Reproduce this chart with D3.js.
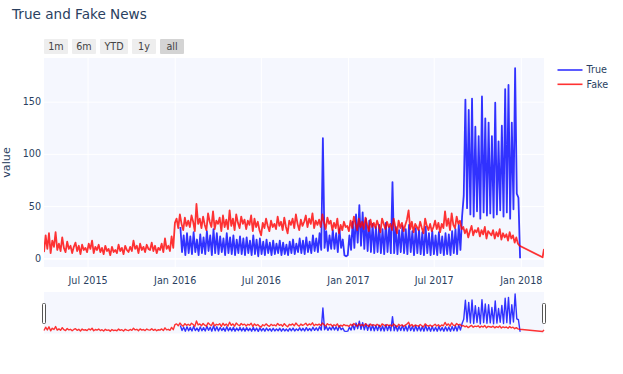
<!DOCTYPE html>
<html>
<head>
<meta charset="utf-8">
<script src="https://cdn.jsdelivr.net/npm/d3@7"></script>
<style>
  body { margin: 0; background: #fff; }
  text { font-family: "DejaVu Sans", Verdana, sans-serif; }
</style>
</head>
<body>
<div id="chart"></div>
<script>
// half-week samples (3.5 days apart)
const stepHours = 84
const fakeStart = "2015-03-31"
const trueStart = "2016-01-13"

const fakeValues = [
    // 2015 Apr..Dec
    6, 22, 9, 24, 5, 17, 11, 25, 8,
    14, 7, 20, 10, 6, 16, 9, 12, 5,
    11, 15, 7, 12, 4, 13, 8, 10,
    6, 14, 9, 17, 5, 11, 8, 13, 6,
    10, 4, 12, 7, 9, 3, 11, 6, 8,
    5, 13, 7, 10, 4, 12, 8, 6, 11,
    7, 17, 9, 12, 5, 14, 8, 11,
    6, 13, 9, 8, 15, 7, 12, 5, 10,
    8, 14, 6, 19, 9, 12, 7, 21, 10,
    // 2016
    34, 38, 29, 42, 33, 27, 39, 31, 36,
    30, 41, 35, 26, 52, 33, 38, 29,
    40, 32, 27, 43, 35, 30, 45, 28, 36,
    33, 39, 26, 41, 30, 37, 28, 46,
    31, 38, 27, 42, 34, 29, 40, 33, 37,
    28, 36, 32, 41, 26, 38, 30, 35, 27,
    22, 34, 29, 38, 31, 26, 36, 30, 33,
    28, 40, 31, 35, 27, 39, 30, 24, 36,
    32, 38, 29, 42, 33, 27, 37, 31,
    35, 41, 30, 38, 33, 43, 29, 36, 32,
    37, 30, 42, 34, 28, 39, 33, 36, 27,
    34, 29, 38, 24, 32, 27, 35, 30,
    // 2017
    31, 26, 36, 29, 40, 33, 27, 38, 30,
    35, 28, 39, 32, 26, 37, 30, 34,
    29, 36, 31, 25, 38, 33, 28, 35, 30,
    33, 27, 38, 30, 24, 36, 29, 34, 26,
    32, 37, 46, 28, 35, 25, 33, 30, 27,
    35, 29, 24, 38, 31, 27, 33, 26,
    30, 36, 28, 34, 25, 33, 29, 45, 31,
    38, 27, 43, 32, 29, 40, 33, 36, 28,
    30, 24, 28, 20, 26, 31, 22, 27,
    25, 29, 21, 27, 23, 30, 19, 26, 24,
    22, 27, 19, 25, 21, 28, 18, 24, 20,
    23, 17, 25, 19, 22, 15, 20, 14, 12
]
const fakeTailDates = ["2018-02-16", "2018-02-19"]
const fakeTailValues = [1, 9]

const trueValues = [
    // 2016
    30, 6, 22, 3, 24,
    5, 21, 4, 25, 6, 18, 3, 23, 5,
    20, 4, 26, 7, 22, 3, 28, 5, 24,
    4, 21, 6, 19, 3, 24, 5, 20,
    4, 22, 3, 18, 5, 21, 4, 19, 3,
    20, 5, 17, 3, 22, 4, 18, 2, 19,
    4, 16, 3, 18, 5, 15, 3, 17,
    4, 14, 5, 17, 3, 15, 4, 13, 3,
    16, 5, 18, 4, 14, 6, 19, 5, 17,
    4, 20, 6, 16, 5, 22, 7, 19, 6,
    24, 8, 115, 10, 26, 7, 22, 9,
    27, 9, 24, 6, 28, 10, 18, 3, 2,
    // 2017
    3, 22, 8, 35, 10, 42, 15, 51, 12,
    44, 9, 38, 7, 36, 6, 33, 5,
    30, 6, 32, 5, 28, 4, 34, 6, 30,
    5, 73, 5, 30, 4, 27, 6, 31,
    5, 28, 4, 32, 6, 26, 3, 29, 5,
    27, 4, 25, 3, 30, 5, 24, 3, 26,
    4, 22, 3, 25, 5, 21, 3, 24, 4,
    23, 3, 26, 5, 28, 4, 32, 8, 40,
    60, 152, 48, 142, 42, 153, 40, 126,
    45, 117, 38, 155, 44, 134, 41, 130, 43,
    117, 39, 149, 42, 112, 46, 127, 40, 162,
    44, 166, 38, 130, 47, 182, 62, 58, 0
]

const seriesNames = ["True", "Fake"]
const seriesColors = ["#0000ff", "#ff0000"]
const yTicks = [0, 50, 100, 150]
const rangeButtons = ["1m", "6m", "YTD", "1y", "all"]
const activeButton = "all"

const width = 623
const height = 374
const plot = { left: 44, right: 544, top: 58, bottom: 267 }
const slider = { top: 292, bottom: 333.5 }
const textColor = "#2a3f5f"
const bgColor = "#f5f7fe"

const parse = d3.utcParse("%Y-%m-%d")

const toSeries = (start, values) =>
    values.map((v, i) => ({ date: d3.utcHour.offset(parse(start), i * stepHours), value: v }))

const trueData = toSeries(trueStart, trueValues)
const fakeData = toSeries(fakeStart, fakeValues)
    .concat(fakeTailDates.map((d, i) => ({ date: parse(d), value: fakeTailValues[i] })))
const allSeries = [trueData, fakeData]

const svg = d3.select("#chart")
    .append("svg")
    .attr("width", width)
    .attr("height", height)

// scales
const x = d3.scaleUtc()
    .domain([parse(fakeStart), parse(fakeTailDates[fakeTailDates.length - 1])])
    .range([plot.left, plot.right])
const y = d3.scaleLinear()
    .domain([-8.3, 191.8])
    .range([plot.bottom, plot.top])
const ySlider = d3.scaleLinear()
    .domain(y.domain())
    .range([slider.bottom, slider.top])

// title
svg.append("text")
    .attr("x", 12)
    .attr("y", 18.5)
    .attr("fill", textColor)
    .style("font-size", "13.6px")
    .text("True and Fake News")

// range selector buttons
let bx = plot.left
rangeButtons.forEach(label => {
    const w = label === "YTD" ? 28 : 24
    svg.append("rect")
        .attr("x", bx).attr("y", 39)
        .attr("width", w).attr("height", 15)
        .attr("rx", 1)
        .attr("fill", label === activeButton ? "#d4d4d4" : "#eeeeee")
    svg.append("text")
        .attr("x", bx + w / 2).attr("y", 50)
        .attr("text-anchor", "middle")
        .attr("fill", "#444")
        .style("font-size", "9.6px")
        .text(label)
    bx += w + 4
})

// plot background
svg.append("rect")
    .attr("x", plot.left).attr("y", plot.top)
    .attr("width", plot.right - plot.left)
    .attr("height", plot.bottom - plot.top)
    .attr("fill", bgColor)

// grid + axes
const xAxis = svg.append("g")
    .attr("transform", `translate(0,${plot.bottom})`)
    .call(d3.axisBottom(x)
        .ticks(d3.utcMonth.every(6))
        .tickFormat(d3.utcFormat("%b %Y"))
        .tickSize(-(plot.bottom - plot.top))
        .tickPadding(10))
xAxis.select(".domain").remove()
xAxis.selectAll("line").attr("stroke", "#fff").attr("stroke-width", 1)
xAxis.selectAll("text").attr("fill", textColor).style("font-size", "9.6px")

const yAxis = svg.append("g")
    .attr("transform", `translate(${plot.left},0)`)
    .call(d3.axisLeft(y)
        .tickValues(yTicks)
        .tickSize(-(plot.right - plot.left))
        .tickPadding(3))
yAxis.select(".domain").remove()
yAxis.selectAll("line")
    .attr("stroke", "#fff")
    .attr("stroke-width", d => d === 0 ? 1.6 : 1)
yAxis.selectAll("text").attr("fill", textColor).style("font-size", "9.6px")

svg.append("text")
    .attr("transform", `translate(10,${(plot.top + plot.bottom) / 2}) rotate(-90)`)
    .attr("text-anchor", "middle")
    .attr("fill", textColor)
    .style("font-size", "11.2px")
    .text("value")

// lines
svg.append("clipPath").attr("id", "clip")
    .append("rect")
    .attr("x", plot.left).attr("y", plot.top)
    .attr("width", plot.right - plot.left)
    .attr("height", plot.bottom - plot.top)

const line = d3.line().x(d => x(d.date)).y(d => y(d.value))
const lineSlider = d3.line().x(d => x(d.date)).y(d => ySlider(d.value))

const lines = svg.append("g").attr("clip-path", "url(#clip)")
allSeries.forEach((data, k) => {
    lines.append("g")
        .attr("opacity", 0.8)
        .append("path")
        .attr("d", line(data))
        .attr("fill", "none")
        .attr("stroke", seriesColors[k])
        .attr("stroke-width", 1.8)
        .attr("stroke-linejoin", "round")
})

// range slider
svg.append("rect")
    .attr("x", plot.left).attr("y", slider.top)
    .attr("width", plot.right - plot.left)
    .attr("height", slider.bottom - slider.top)
    .attr("fill", bgColor)

allSeries.forEach((data, k) => {
    svg.append("g")
        .attr("opacity", 0.8)
        .append("path")
        .attr("d", lineSlider(data))
        .attr("fill", "none")
        .attr("stroke", seriesColors[k])
        .attr("stroke-width", 1.4)
        .attr("stroke-linejoin", "round")
})

x.range().forEach(px => {
    svg.append("rect")
        .attr("x", px - 1.5).attr("y", 303.5)
        .attr("width", 3).attr("height", 20)
        .attr("rx", 1)
        .attr("fill", "#fff")
        .attr("stroke", "#555")
        .attr("stroke-width", 1)
})

// legend
seriesNames.forEach((name, k) => {
    const ly = 70 + k * 14.3
    svg.append("line")
        .attr("x1", 557.5).attr("x2", 582.5)
        .attr("y1", ly).attr("y2", ly)
        .attr("stroke", seriesColors[k])
        .attr("stroke-width", 1.6)
        .attr("opacity", 0.8)
    svg.append("text")
        .attr("x", 586.5).attr("y", ly + 3.4)
        .attr("fill", textColor)
        .style("font-size", "9.6px")
        .text(name)
})
</script>
</body>
</html>
